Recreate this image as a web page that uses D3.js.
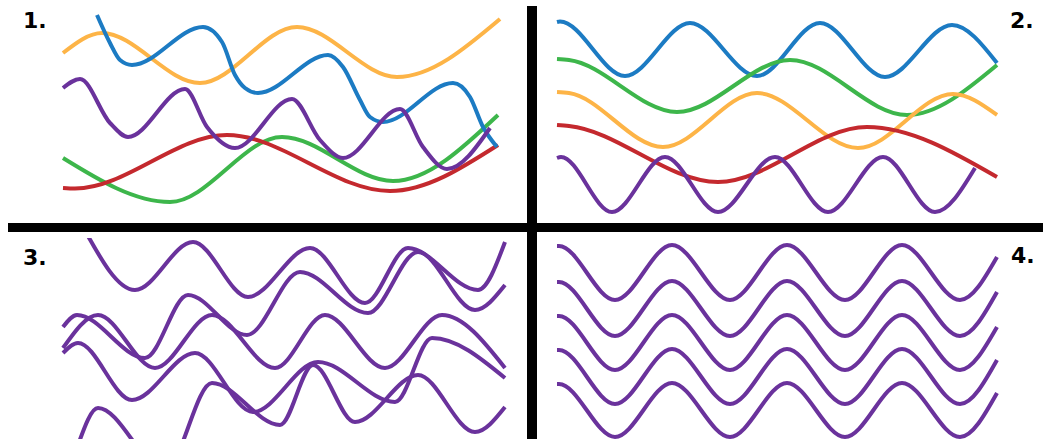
<!DOCTYPE html>
<html lang="en">
    <head>
        <meta charset="utf-8">
        <title>Wave panels</title>
        <script src="https://d3js.org/d3.v7.min.js"></script>
        <style type="text/css">
            body { margin: 0; background: #fff; }
            .wave { fill: none; stroke-width: 4; }
            .label { font-family: "DejaVu Sans", Verdana, sans-serif; font-weight: bold; font-size: 22px; }
        </style>
    </head>
    <body>
        <script type="text/javascript">

            //consts
            const w = 1043;
            const h = 439;
            const blue = "#1c7bc3", orange = "#fdb447", green = "#3db64b", red = "#c4292e", purple = "#6a329c";

            //panel labels
            const labels = ["1.", "2.", "3.", "4."];

            //panel 1 - [x, value]
            const p1Orange = [[0,167],[39,187],[137,137],[234,193],[334,143],[437,201]];
            const p1Blue = [[34,205],[47,177],[57,160],[69,155],[140,193],[159,178],[172,145],[182,132],[195,127],
                            [265,165],[280,153],[297,120],[307,103],[320,98],[390,137],[407,123],[420,93],[434,73]];
            const p1Purple = [[0,132],[17,141],[47,97],[65,83],[122,131],[144,93],[172,72],[229,121],[257,80],[280,62],
                              [337,111],[360,73],[384,51],[427,92]];
            const p1Green = [[0,62],[107,18],[219,83],[330,39],[435,105]];
            const p1Red = [[0,32],[12,31.5],[164,85],[327,29],[435,75]];

            //panel 2
            const p2Blue = [[0,198],[3,198.5],[68,144],[133,197],[200,144],[263,197],[328,143],[395,195],[440,157]];
            const p2Green = [[0,161],[12,160],[120,108],[233,160],[350,105],[440,155]];
            const p2Orange = [[0,128],[12,127],[106,73],[200,127],[301,72],[396,126],[440,105]];
            const p2Red = [[0,95],[12,94],[161,38],[310,93],[440,43]];
            const p2Purple = [[0,62],[4,63],[55,8],[108,63],[161,8],[218,63],[271,8],[326,63],[378,8],[418,52]];

            //panel 3
            const p3Line1 = [[20,212],[72,149],[130,197],[185,142],[247,191],[302,136],[345,191],[415,149],[442,197]];
            const p3Line2 = [[0,112],[14,124],[82,81],[125,144],[184,104],[237,167],[305,126],[355,187],[412,129],[442,154]];
            const p3Line3 = [[0,91],[35,124],[92,71],[149,124],[212,71],[262,124],[322,71],[379,124],[442,71]];
            const p3Line4 = [[0,86],[15,96],[69,39],[132,86],[190,27],[255,77],[332,37],[369,101],[442,61]];
            const p3Line5 = [[15,-6],[35,31],[102,-31],[149,56],[217,14],[250,74],[292,17],[355,64],[412,7],[442,32]];

            //panel 4
            const p4X = [0,2,58,115,173,230,288,345,403,440];
            const p4Wave1 = [193,193,139,194,139,194,139,194,139,182];
            const p4Wave2 = [157,157,103,158,103,158,103,158,103,147];
            const p4Wave3 = [123,123,69,124,69,124,69,124,69,112];
            const p4Wave4 = [89,89,35,90,35,90,35,90,35,79];
            const p4Wave5 = [55,55,2,56,2,56,2,56,2,46];

            //scales
            const xLeft = d3.scaleLinear().domain([0, 445]).range([63, 508]);
            const xRight = d3.scaleLinear().domain([0, 445]).range([557, 1002]);
            const yTop = d3.scaleLinear().domain([0, 220]).range([220, 0]);
            const yBottom = d3.scaleLinear().domain([0, 206]).range([439, 233]);

            const panels = [
                { x: xLeft, y: yTop, clip: null, lines: [[p1Green, green], [p1Red, red], [p1Orange, orange], [p1Blue, blue], [p1Purple, purple]] },
                { x: xRight, y: yTop, clip: null, lines: [[p2Blue, blue], [p2Green, green], [p2Orange, orange], [p2Red, red], [p2Purple, purple]] },
                { x: xLeft, y: yBottom, clip: "clip3", lines: [[p3Line1, purple], [p3Line2, purple], [p3Line3, purple], [p3Line4, purple], [p3Line5, purple]] },
                { x: xRight, y: yBottom, clip: null, lines: [p4Wave1, p4Wave2, p4Wave3, p4Wave4, p4Wave5].map(v => [p4X.map((x, i) => [x, v[i]]), purple]) }
            ];

            //SVG
            const svg = d3.select("body")
                          .append("svg")
                          .attr("width", w)
                          .attr("height", h);

            svg.append("clipPath")
               .attr("id", "clip3")
               .append("rect")
               .attr("x", 50)
               .attr("y", 238)
               .attr("width", 470)
               .attr("height", 210);

            //waves
            panels.forEach(p => {
                const line = d3.line()
                               .x(d => p.x(d[0]))
                               .y(d => p.y(d[1]))
                               .curve(d3.curveMonotoneX);

                const g = svg.append("g");
                if (p.clip) g.attr("clip-path", "url(#" + p.clip + ")");

                g.selectAll("path")
                 .data(p.lines)
                 .enter()
                 .append("path")
                 .attr("class", "wave")
                 .attr("d", d => line(d[0]))
                 .style("stroke", d => d[1]);
            });

            //dividers
            svg.append("rect")
               .attr("x", 8)
               .attr("y", 223)
               .attr("width", w - 8)
               .attr("height", 9)
               .attr("fill", "#000");

            svg.append("rect")
               .attr("x", 527)
               .attr("y", 6)
               .attr("width", 10)
               .attr("height", h - 6)
               .attr("fill", "#000");

            //labels
            const labelPos = [[23, 28], [1010, 28], [23, 265], [1011, 263]];
            svg.selectAll("text.label")
               .data(labels)
               .enter()
               .append("text")
               .attr("class", "label")
               .attr("x", (d, i) => labelPos[i][0])
               .attr("y", (d, i) => labelPos[i][1])
               .text(d => d);

        </script>
    </body>
</html>
